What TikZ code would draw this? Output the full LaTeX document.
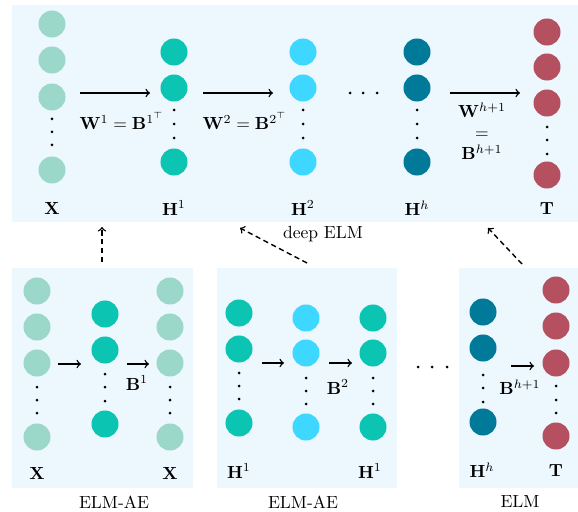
\documentclass[tikz,border=0pt]{standalone}
\usepackage{amsmath,amssymb}
\definecolor{inputc}{RGB}{155,216,201}
\definecolor{hidone}{RGB}{11,196,178}
\definecolor{hidtwo}{RGB}{61,215,255}
\definecolor{hidh}{RGB}{0,122,152}
\definecolor{outc}{RGB}{181,80,96}
\definecolor{panelbg}{RGB}{237,247,254}
% three dots down a column
\newcommand{\colDots}[4]{\foreach \yy in {#2,#3,#4} \fill (#1,\yy) circle (1.5);}

\begin{document}
\begin{tikzpicture}[
  x=0.57pt, y=-0.57pt,
  neuron/.style={circle, fill=#1, minimum size=15.4pt, inner sep=0pt},
  lbl/.style={inner sep=1pt},
  arr/.style={->, thick},
  link/.style={->, thick, densely dashed}
]
\useasboundingbox (0,0) rectangle (578,512);

% Panels
\fill[panelbg] (12,5) rectangle (578,222);
\fill[panelbg] (12,268) rectangle (193,488);
\fill[panelbg] (217,268) rectangle (397,488);
\fill[panelbg] (459,268) rectangle (578,488);

% deep ELM
\foreach \y [count=\i] in {24,60,97,170} \node[neuron=inputc] (tx\i) at (52,\y) {};
\foreach \y [count=\i] in {52,88,162} {
  \node[neuron=hidone] (th\i) at (174,\y) {};
  \node[neuron=hidtwo] (tk\i) at (303,\y) {};
  \node[neuron=hidh] (tm\i) at (417,\y) {};
}
\foreach \y [count=\i] in {32,67,103,175} \node[neuron=outc] (tt\i) at (547,\y) {};
\colDots{52}{119}{132}{145}
\colDots{174}{110}{124}{138}
\colDots{303}{110}{124}{138}
\colDots{417}{110}{124}{138}
\colDots{547}{127}{140}{154}
\foreach \x in {350,363,377} \fill (\x,93) circle (1.5);

\node[lbl] (lx) at (52,208) {$\mathbf{X}$};
\node[lbl] (lh1) at (174,208) {$\mathbf{H}^1$};
\node[lbl] (lh2) at (303,208) {$\mathbf{H}^2$};
\node[lbl] (lhh) at (417,208) {$\mathbf{H}^h$};
\node[lbl] (lt) at (547,208) {$\mathbf{T}$};

\coordinate (ta1) at (80,93);  \coordinate (tb1) at (150,93);
\coordinate (ta2) at (203,93); \coordinate (tb2) at (273,93);
\coordinate (ta3) at (450,93); \coordinate (tb3) at (520,93);
\draw[arr] (ta1) -- (tb1);
\draw[arr] (ta2) -- (tb2);
\draw[arr] (ta3) -- (tb3);
\node[lbl] (w1) at (122,121) {$\mathbf{W}^1=\mathbf{B}^{1^\top}$};
\node[lbl] (w2) at (245,121) {$\mathbf{W}^2=\mathbf{B}^{2^\top}$};
\node[lbl, align=center] (wh) at (482,131) {$\mathbf{W}^{h+1}$\\$=$\\$\mathbf{B}^{h+1}$};
\node (deep) at (323,234) {deep ELM};

% first ELM-AE
\foreach \y [count=\i] in {291,327,363,437} {
  \node[neuron=inputc] (ax\i) at (37,\y) {};
  \node[neuron=inputc] (ay\i) at (170,\y) {};
}
\foreach \y [count=\i] in {314,350,424} \node[neuron=hidone] (ah\i) at (105,\y) {};
\colDots{37}{387}{400}{413}
\colDots{105}{374}{387}{401}
\colDots{170}{387}{400}{413}
\coordinate (aa1) at (58,364);  \coordinate (ab1) at (81,364);
\coordinate (aa2) at (127,364); \coordinate (ab2) at (149,364);
\draw[arr] (aa1) -- (ab1);
\draw[arr] (aa2) -- (ab2);
\node[lbl] (b1) at (137,383) {$\mathbf{B}^1$};
\node[lbl] (alx) at (37,473) {$\mathbf{X}$};
\node[lbl] (aly) at (170,473) {$\mathbf{X}$};
\node (ae1) at (114,502) {ELM-AE};

% second ELM-AE
\foreach \y [count=\i] in {313,349,423} \node[neuron=hidone] (bh\i) at (239,\y) {};
\foreach \y [count=\i] in {318,353,427} {
  \node[neuron=hidtwo] (bk\i) at (306,\y) {};
  \node[neuron=hidone] (bg\i) at (373,\y) {};
}
\colDots{239}{373}{386}{399}
\colDots{306}{378}{391}{404}
\colDots{373}{378}{391}{404}
\coordinate (ba1) at (262,363); \coordinate (bb1) at (284,363);
\coordinate (ba2) at (329,363); \coordinate (bb2) at (352,363);
\draw[arr] (ba1) -- (bb1);
\draw[arr] (ba2) -- (bb2);
\node[lbl] (b2) at (338,387) {$\mathbf{B}^2$};
\node[lbl] (blh) at (239,471) {$\mathbf{H}^1$};
\node[lbl] (blg) at (370,471) {$\mathbf{H}^1$};
\node (ae2) at (303,502) {ELM-AE};

\foreach \x in {418,432,447} \fill (\x,367) circle (1.5);

% last ELM
\foreach \y [count=\i] in {312,348,422} \node[neuron=hidh] (ch\i) at (483,\y) {};
\foreach \y [count=\i] in {290,326,363,436} \node[neuron=outc] (ct\i) at (556,\y) {};
\colDots{483}{375}{388}{402}
\colDots{556}{386}{400}{413}
\coordinate (ca1) at (511,366); \coordinate (cb1) at (534,366);
\draw[arr] (ca1) -- (cb1);
\node[lbl] (bh) at (520,387) {$\mathbf{B}^{h+1}$};
\node[lbl] (clh) at (482,470) {$\mathbf{H}^h$};
\node[lbl] (clt) at (556,470) {$\mathbf{T}$};
\node (elm) at (520,502) {ELM};

% Links to deep ELM
\coordinate (s1) at (102,262); \coordinate (e1) at (102,227);
\coordinate (s2) at (307,263); \coordinate (e2) at (240,228);
\coordinate (s3) at (522,264); \coordinate (e3) at (488,228);
\draw[link] (s1) -- (e1);
\draw[link] (s2) -- (e2);
\draw[link] (s3) -- (e3);

\end{tikzpicture}
\end{document}
